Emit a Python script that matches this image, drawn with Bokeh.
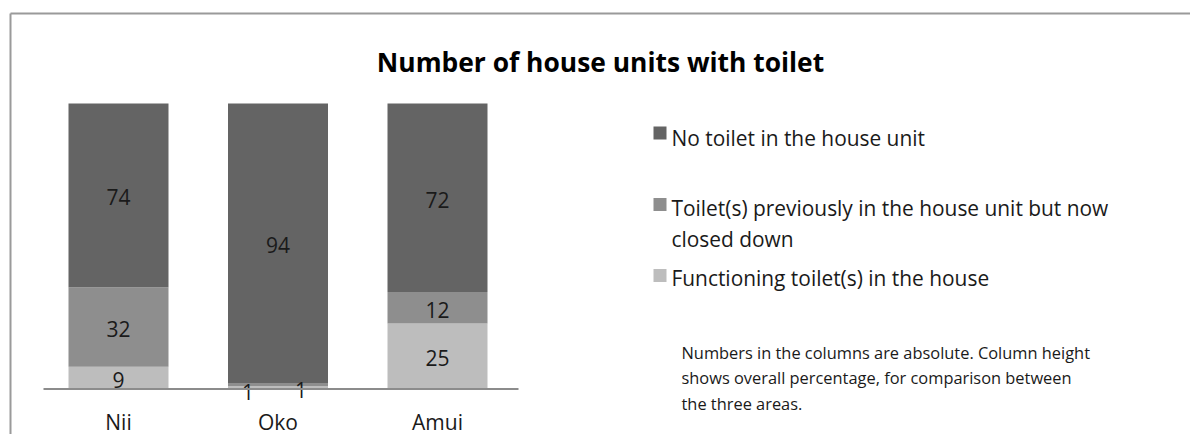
import numpy as np
from bokeh.plotting import figure
from bokeh.models import ColumnDataSource, Range1d
from bokeh.core.properties import value
from bokeh.embed import file_html
from bokeh.resources import INLINE

# ---- data ----
areas = ["Nii", "Oko", "Amui"]
functioning = [9, 1, 25]
closed_down = [32, 1, 12]
no_toilet = [74, 94, 72]
legend_lines = {
    "n": ["No toilet in the house unit"],
    "c": ["Toilet(s) previously in the house unit but now", "closed down"],
    "f": ["Functioning toilet(s) in the house"],
}
title_text = "Number of house units with toilet"
note_lines = ["Numbers in the columns are absolute. Column height",
              "shows overall percentage, for comparison between",
              "the three areas."]

colors = {"f": "#bdbdbd", "c": "#8e8e8e", "n": "#646464"}
FONT = "Open Sans"
TXT = "#1a1a1a"

# ---- layout helpers (pixel -> data) ----
W, H = 1190, 434
X0, UX = 118, 159.5      # image x of first category centre, px per category
Y0, UY = 388.5, 2.855    # image y of 0 %, px per percent


def dx(px):
    return (px - X0) / UX


def dy(py):
    return (Y0 - py) / UY


p = figure(width=W, height=H, output_backend="svg", toolbar_location=None,
           x_range=Range1d(dx(0), dx(W)), y_range=Range1d(dy(H), dy(0)),
           x_axis_type=None, y_axis_type=None, min_border=0)
p.grid.visible = False
p.outline_line_color = None
p.background_fill_color = "white"
p.border_fill_color = "white"

# ---- stacked 100% columns ----
keys = ["f", "c", "n"]
counts = np.array([functioning, closed_down, no_toilet], dtype=float)
totals = counts.sum(axis=0)
pct = counts / totals * 100.0
xs = np.arange(len(areas))
src = ColumnDataSource(dict(x=xs, f=pct[0], c=pct[1], n=pct[2]))
p.vbar_stack(keys, x="x", width=100 / UX, color=[colors[k] for k in keys],
             source=src, line_color=None)

# value labels
lx, ly, lt, xo, yo = [], [], [], [], []
bottoms = np.zeros(len(areas))
for si in range(3):
    for ai in range(len(areas)):
        lx.append(xs[ai])
        ly.append(bottoms[ai] + pct[si][ai] / 2)
        lt.append(str(int(counts[si][ai])))
        if pct[si][ai] < 3:   # tiny segments: labels pushed aside
            xo.append(-30 if si == 0 else 23)
            yo.append(4 if si == 0 else 5)
        else:
            xo.append(0)
            yo.append(2)
    bottoms = bottoms + pct[si]
lsrc = ColumnDataSource(dict(x=lx, y=ly, t=lt, xo=xo, yo=yo))
p.text(x="x", y="y", text="t", x_offset="xo", y_offset="yo", source=lsrc,
       text_font=value(FONT), text_font_size="21px", text_color=TXT,
       text_align="center", text_baseline="middle")

# axis line
p.segment(x0=[dx(43)], y0=[0], x1=[dx(518)], y1=[0], line_color="#8c8c8c", line_width=2)

# category labels
p.text(x=xs, y=[dy(421)] * len(areas), text=areas, text_font=value(FONT),
       text_font_size="21px", text_color=TXT, text_align="center",
       text_baseline="middle")

# chart border (top and left)
p.segment(x0=[dx(10), dx(10)], y0=[dy(13), dy(13)], x1=[dx(1192), dx(10)],
          y1=[dy(13), dy(436)], line_color="#9a9a9a", line_width=2)

# title
p.text(x=[dx(600)], y=[dy(61)], text=[title_text], text_font=value(FONT),
       text_font_size="26.4px", text_font_style="bold", text_color="#000000",
       text_align="center", text_baseline="middle")

# legend
leg = [("n", 132.5, [137]), ("c", 204, [207, 238]), ("f", 275, [277])]
for k, sq_y, line_ys in leg:
    p.rect(x=[dx(659.5)], y=[dy(sq_y)], width=13, height=13, width_units="screen",
           height_units="screen", fill_color=colors[k], line_color=None)
    p.text(x=[dx(671)] * len(line_ys), y=[dy(v) for v in line_ys], text=legend_lines[k],
           text_font=value(FONT), text_font_size="20.9px", text_color=TXT,
           text_align="left", text_baseline="middle")

# note
p.text(x=[dx(681)] * 3, y=[dy(v) for v in (352, 377, 403)], text=note_lines,
       text_font=value(FONT), text_font_size="16.4px", text_color=TXT,
       text_align="left", text_baseline="middle")

open("out.html", "w").write(file_html(p, INLINE))
